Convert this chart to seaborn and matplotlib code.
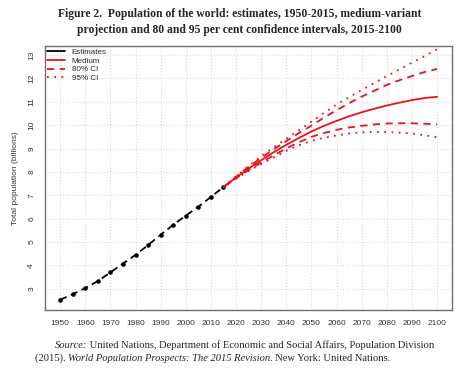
"""World population estimates and projections, 1950-2100 (UN WPP 2015)."""

import matplotlib

matplotlib.use("Agg")
import matplotlib.pyplot as plt  # noqa: E402
import seaborn as sns  # noqa: E402
from matplotlib.lines import Line2D  # noqa: E402

# estimates, every 5 years
est_years = [1950, 1955, 1960, 1965, 1970, 1975, 1980, 1985, 1990, 1995,
             2000, 2005, 2010, 2015]
est_pop = [2.53, 2.77, 3.03, 3.33, 3.70, 4.08, 4.45, 4.87, 5.31, 5.74,
           6.13, 6.51, 6.93, 7.35]

# projections, every 5 years
proj_years = [2015, 2020, 2025, 2030, 2035, 2040, 2045, 2050, 2055, 2060,
              2065, 2070, 2075, 2080, 2085, 2090, 2095, 2100]
medium = [7.35, 7.76, 8.14, 8.50, 8.84, 9.16, 9.45, 9.73, 9.97, 10.18,
          10.38, 10.55, 10.70, 10.84, 10.96, 11.07, 11.16, 11.21]
upper80 = [7.35, 7.79, 8.21, 8.60, 8.97, 9.32, 9.66, 9.98, 10.32, 10.64,
           10.94, 11.22, 11.47, 11.72, 11.92, 12.10, 12.27, 12.40]
lower80 = [7.35, 7.73, 8.08, 8.40, 8.71, 9.00, 9.27, 9.50, 9.66, 9.80,
           9.90, 9.97, 10.03, 10.07, 10.08, 10.08, 10.06, 10.03]
upper95 = [7.35, 7.81, 8.25, 8.67, 9.05, 9.42, 9.78, 10.15, 10.52, 10.88,
           11.20, 11.50, 11.80, 12.10, 12.38, 12.67, 12.95, 13.25]
lower95 = [7.35, 7.71, 8.04, 8.33, 8.62, 8.90, 9.14, 9.33, 9.46, 9.56,
           9.64, 9.69, 9.71, 9.71, 9.68, 9.64, 9.57, 9.48]

x_ticks = list(range(1950, 2101, 10))
y_ticks = list(range(3, 14))

RED = "#e8141c"
FRAME = "#707070"

sns.set_style("white")
plt.rcParams["font.family"] = ["Liberation Sans", "DejaVu Sans"]

fig = plt.figure(figsize=(4.74, 3.68), dpi=100)
ax = fig.add_axes([0.095, 0.158, 0.859, 0.718])

sns.lineplot(x=est_years, y=est_pop, ax=ax, color="black", lw=1.3,
             linestyle=(0, (4, 2.5)), marker="o", markersize=3.3,
             markeredgewidth=0)
sns.lineplot(x=proj_years, y=medium, ax=ax, color=RED, lw=1.3)
for series in (upper80, lower80):
    sns.lineplot(x=proj_years, y=series, ax=ax, color=RED, lw=1.3,
                 linestyle=(0, (4, 3)))
for series in (upper95, lower95):
    sns.lineplot(x=proj_years, y=series, ax=ax, color=RED, lw=1.3,
                 linestyle=(0, (1, 3)))

ax.set_xlim(1944, 2106)
ax.set_ylim(2.1, 13.4)
ax.set_xticks(x_ticks)
ax.set_yticks(y_ticks)
ax.set_xticklabels([str(v) for v in x_ticks], fontsize=6, color="#333333")
ax.set_yticklabels([str(v) for v in y_ticks], fontsize=6, color="#333333",
                   rotation=90, va="center")
ax.tick_params(direction="out", length=3, width=0.8, color=FRAME, pad=4)
ax.grid(True, color="#d9d9d9", linestyle=":", lw=0.8)
ax.set_axisbelow(True)
for sp in ax.spines.values():
    sp.set_color(FRAME)
    sp.set_linewidth(1.0)
ax.set_xlabel("")
ax.set_ylabel("Total population (billions)", fontsize=6, color="#333333",
              labelpad=7)

handles = [
    Line2D([], [], color="black", lw=1.3),
    Line2D([], [], color=RED, lw=1.3),
    Line2D([], [], color=RED, lw=1.3, linestyle=(0, (4, 3))),
    Line2D([], [], color=RED, lw=1.3, linestyle=(0, (1, 3))),
]
ax.legend(handles, ["Estimates", "Medium", "80% CI", "95% CI"],
          loc="upper left", frameon=False, fontsize=5.8, handlelength=2.2,
          handletextpad=0.8, labelspacing=0.15, borderaxespad=0.2,
          borderpad=0.1)

serif = ["Liberation Serif", "DejaVu Serif"]
fig.text(0.506, 0.963, "Figure 2.  Population of the world: estimates, 1950-2015, medium-variant",
         ha="center", va="center", fontsize=8.4, fontweight="bold", family=serif)
fig.text(0.506, 0.918, "projection and 80 and 95 per cent confidence intervals, 2015-2100",
         ha="center", va="center", fontsize=8.4, fontweight="bold", family=serif)


def write_runs(runs, x0, y0, size=7.6):
    """Draw text pieces one after another, switching italic on and off."""
    renderer = fig.canvas.get_renderer()
    x = x0
    for text, style in runs:
        t = fig.text(x, y0, text, ha="left", va="center", fontsize=size,
                     style=style, family=serif)
        bb = t.get_window_extent(renderer=renderer)
        x += bb.width / fig.bbox.width


write_runs([("Source:", "italic"),
            (" United Nations, Department of Economic and Social Affairs, Population Division", "normal")],
           0.116, 0.062)
write_runs([("(2015). ", "normal"),
            ("World Population Prospects: The 2015 Revision", "italic"),
            (". New York: United Nations.", "normal")],
           0.074, 0.026)

fig.savefig("out.png", dpi=100)
